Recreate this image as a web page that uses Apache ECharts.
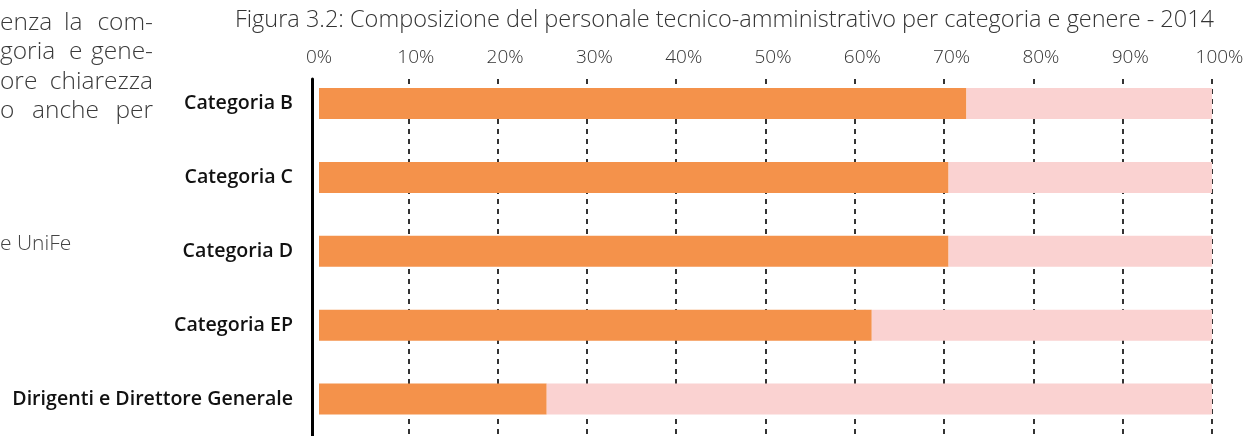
<!DOCTYPE html>
<html lang="it">
<head>
    <meta charset="UTF-8">
    <title>Figura 3.2</title>
    <script src="https://cdn.jsdelivr.net/npm/echarts@6/dist/echarts.min.js"></script>
    <style>
        html, body { margin: 0; padding: 0; background: #fff; }
        #grafico { width: 1247px; height: 436px; }
    </style>
</head>
<body>
<div id="grafico"></div>
<script>
    // dati (percentuali)
    var categorie = ['Categoria B', 'Categoria C', 'Categoria D', 'Categoria EP', 'Dirigenti e Direttore Generale'];
    var donne = [72.5, 70.5, 70.5, 61.9, 25.5];
    var uomini = [27.5, 29.5, 29.5, 38.1, 74.5];
    var tickPercent = [0, 10, 20, 30, 40, 50, 60, 70, 80, 90, 100];

    var titolo = 'Figura 3.2: Composizione del personale tecnico-amministrativo per categoria e genere - 2014';

    // pezzi del testo a sinistra (paragrafo giustificato, tagliato)
    // [parola, x, allineamento]
    var righe = [
        [['enza', 0, 'left'], ['la', 64, 'left'], ['com-', 153, 'right']],
        [['goria', 0, 'left'], ['e', 69, 'left'], ['gene-', 153, 'right']],
        [['ore', 0, 'left'], ['chiarezza', 153, 'right']],
        [['o', 0, 'left'], ['anche', 32, 'left'], ['per', 153, 'right']]
    ];
    var righeY = [23, 52, 82, 111];

    var font = '"Open Sans", Roboto, sans-serif';

    var testi = [];
    for (var i = 0; i < righe.length; i++) {
        for (var j = 0; j < righe[i].length; j++) {
            testi.push({
                type: 'text',
                x: righe[i][j][1],
                y: righeY[i],
                style: {
                    text: righe[i][j][0],
                    fontFamily: font,
                    fontWeight: 300,
                    fontSize: 24.5,
                    fill: '#3a3a3a',
                    align: righe[i][j][2],
                    verticalAlign: 'middle'
                }
            });
        }
    }
    testi.push({
        type: 'text',
        x: 0,
        y: 244,
        style: { text: 'e UniFe', fontFamily: font, fontWeight: 300, fontSize: 21, fill: '#444', verticalAlign: 'middle' }
    });

    var stileTick = { fontFamily: font, fontWeight: 300, fontSize: 19, color: '#333' };

    var chart = echarts.init(document.getElementById('grafico'));
    var option = {
        backgroundColor: '#fff',
        animation: false,
        title: {
            text: titolo,
            left: 230,
            top: 3,
            textStyle: { fontFamily: font, fontWeight: 300, fontSize: 23.5, color: '#333' }
        },
        graphic: testi,
        grid: [
            { left: 319, right: 35, top: 66.6, height: 378.7 },
            { left: 319, right: 35, top: 79, height: 357 }
        ],
        xAxis: [
            { type: 'value', gridIndex: 0, min: 0, max: 100, show: false },
            {
                type: 'value', gridIndex: 1, position: 'top',
                min: tickPercent[0], max: tickPercent[tickPercent.length - 1], interval: 10,
                axisLine: { show: false },
                axisTick: { show: false },
                axisLabel: {
                    margin: 12,
                    formatter: function (v) {
                        return v === 0 ? '{z|0%}' : '{n|' + v + '%}';
                    },
                    rich: {
                        z: stileTick,
                        n: Object.assign({ padding: [0, 0, 0, 15] }, stileTick)
                    }
                },
                splitLine: {
                    show: true, showMinLine: false,
                    lineStyle: { color: '#333', width: 2, type: [5, 5] }
                }
            }
        ],
        yAxis: [
            {
                type: 'category', gridIndex: 0, data: categorie, inverse: true,
                axisLine: { show: false },
                axisTick: { show: false },
                axisLabel: {
                    margin: 26, fontFamily: font, fontWeight: 600, fontSize: 19.6, color: '#111'
                }
            },
            {
                type: 'value', gridIndex: 1, offset: 7,
                axisLine: { show: true, onZero: false, lineStyle: { color: '#000', width: 3 } },
                axisTick: { show: false },
                axisLabel: { show: false },
                splitLine: { show: false }
            }
        ],
        series: [
            {
                name: 'Donne', type: 'bar', stack: 'tot', barWidth: 31,
                xAxisIndex: 0, yAxisIndex: 0,
                itemStyle: { color: '#f4924b' },
                data: donne
            },
            {
                name: 'Uomini', type: 'bar', stack: 'tot', barWidth: 31,
                xAxisIndex: 0, yAxisIndex: 0,
                itemStyle: { color: '#fad2d1' },
                data: uomini
            }
        ]
    };
    chart.setOption(option);
</script>
</body>
</html>
